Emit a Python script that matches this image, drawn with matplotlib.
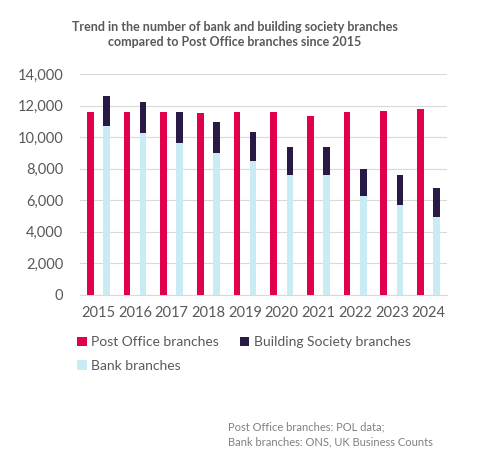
import matplotlib.pyplot as plt
import numpy as np

years = ["2015", "2016", "2017", "2018", "2019", "2020", "2021", "2022", "2023", "2024"]
post_office = [11600, 11600, 11600, 11540, 11600, 11600, 11350, 11600, 11660, 11790]
bank = [10700, 10290, 9640, 9000, 8500, 7610, 7610, 6280, 5710, 4950]
building_society = [1920, 1950, 1960, 1970, 1830, 1770, 1770, 1710, 1900, 1830]

c_po = "#E0004D"
c_bs = "#291A45"
c_bank = "#C9EBF3"
txt = "#595959"

plt.rcParams['font.family'] = ['Lato', 'DejaVu Sans']

fig = plt.figure(figsize=(4.79, 4.66), dpi=100)
ax = fig.add_axes([0.167, 0.367, 0.766, 0.474])

x = np.arange(len(years))
w = 0.18
off = 0.22
ax.bar(x - off, post_office, width=w, color=c_po, label="Post Office branches", zorder=3)
ax.bar(x + off, bank, width=w, color=c_bank, label="Bank branches", zorder=3)
ax.bar(x + off, building_society, width=w, bottom=bank, color=c_bs,
       label="Building Society branches", zorder=3)

ax.set_ylim(0, 14000)
ax.set_xlim(-0.5, len(years) - 0.5)
ax.set_yticks(range(0, 14001, 2000))
ax.set_yticklabels([f"{v:,}" for v in range(0, 14001, 2000)])
ax.set_xticks(x)
ax.set_xticklabels(years)
ax.yaxis.grid(True, color="#D9D9D9", linewidth=0.8, zorder=0)
for s in ["top", "right", "left"]:
    ax.spines[s].set_visible(False)
ax.spines["bottom"].set_color("#D9D9D9")
ax.tick_params(axis="both", length=0, labelsize=10.5, labelcolor=txt)
ax.tick_params(axis="y", pad=12)
ax.tick_params(axis="x", pad=8)

# column-wise fill gives PO / Building Society on the first row, Bank below
h, l = ax.get_legend_handles_labels()
fig.legend(h, l, loc="upper left",
           bbox_to_anchor=(0.135, 0.305), ncol=2, frameon=False, fontsize=10,
           labelcolor=txt, handlelength=0.7, handleheight=0.7, handletextpad=0.3,
           columnspacing=1.5, labelspacing=0.85)

fig.text(0.49, 0.955, "Trend in the number of bank and building society branches\n"
         "compared to Post Office branches since 2015", ha="center", va="top",
         fontsize=9, fontweight="bold", color=txt, linespacing=1.3)
fig.text(0.475, 0.095, "Post Office branches: POL data;\nBank branches: ONS, UK Business Counts",
         ha="left", va="top", fontsize=8, color="#808080", linespacing=1.45)

fig.savefig("out.png", dpi=100)
